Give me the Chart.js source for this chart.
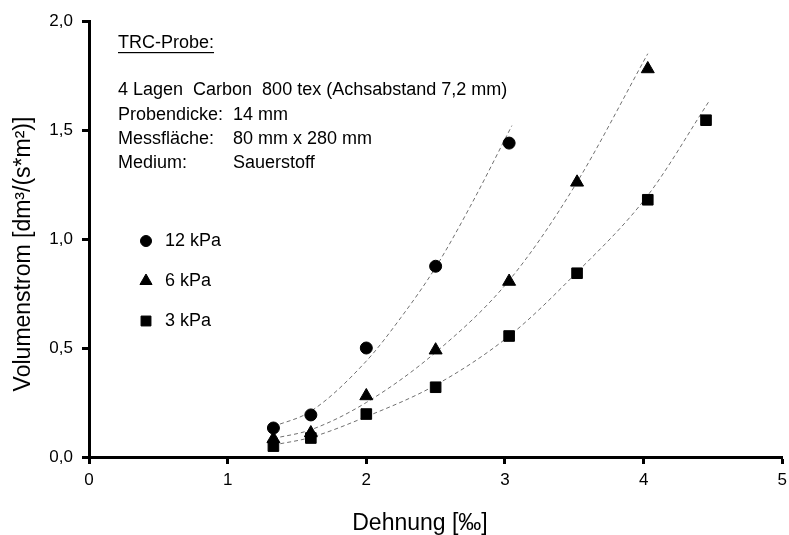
<!DOCTYPE html>
<html>
<head>
  <title>Volumenstrom TRC-Probe</title>
  <script src="https://cdn.jsdelivr.net/npm/chart.js"></script>
  <style>
    body { margin: 0; background: #fff; overflow: hidden; }
    canvas { display: block; }
  </style>
</head>
<body>
  <canvas id="flowChart" width="793" height="535"></canvas>

  <script>
    // measured points (Dehnung in promille, Volumenstrom in dm3/(s*m2))
    const strain12 = [1.33, 1.6, 2.0, 2.5, 3.03];
    const flow12 = [0.133, 0.193, 0.50, 0.875, 1.44];
    const strain6 = [1.33, 1.6, 2.0, 2.5, 3.03, 3.52, 4.03];
    const flow6 = [0.083, 0.11, 0.28, 0.49, 0.805, 1.26, 1.78];
    const strain3 = [1.33, 1.6, 2.0, 2.5, 3.03, 3.52, 4.03, 4.45];
    const flow3 = [0.05, 0.087, 0.197, 0.32, 0.555, 0.843, 1.18, 1.545];

    // dashed trend curves
    const trend12X = [1.33, 1.6, 2.0, 2.25, 2.5, 2.75, 3.05];
    const trend12Y = [0.14, 0.21, 0.44, 0.64, 0.87, 1.15, 1.52];
    const trend6X = [1.33, 1.6, 2.0, 2.5, 3.03, 3.5, 4.03];
    const trend6Y = [0.085, 0.125, 0.25, 0.48, 0.81, 1.24, 1.85];
    const trend3X = [1.33, 1.6, 2.0, 2.5, 3.03, 3.5, 4.03, 4.47];
    const trend3Y = [0.055, 0.09, 0.185, 0.33, 0.555, 0.835, 1.2, 1.63];

    const seriesLabels = ["12 kPa", "6 kPa", "3 kPa"];
    const xTicks = [0, 1, 2, 3, 4, 5];
    const yTicks = [0, 0.5, 1.0, 1.5, 2.0];
    const xTitle = "Dehnung [‰]";
    const yTitle = "Volumenstrom [dm³/(s*m²)]";

    const infoLines = [
      ["4 Lagen  Carbon  800 tex (Achsabstand 7,2 mm)", ""],
      ["Probendicke:", "14 mm"],
      ["Messfläche:", "80 mm x 280 mm"],
      ["Medium:", "Sauerstoff"]
    ];

    const FONT = "'Liberation Sans', Arial, sans-serif";
    const styles = ["circle", "triangle", "rect"];
    const radii = [6, 7.5, 7.5];

    function pts(xs, ys) {
      return xs.map((x, i) => ({ x: x, y: ys[i] }));
    }

    function markerSet(label, xs, ys, i) {
      return {
        label: label,
        data: pts(xs, ys),
        pointStyle: styles[i],
        pointRadius: radii[i],
        backgroundColor: "#000",
        borderColor: "#000",
        borderWidth: 1,
        showLine: false,
        order: 0
      };
    }

    function trendSet(xs, ys) {
      return {
        label: "",
        data: pts(xs, ys),
        showLine: true,
        pointRadius: 0,
        borderColor: "#707070",
        borderWidth: 1,
        borderDash: [4, 3],
        cubicInterpolationMode: "monotone",
        fill: false,
        order: 1
      };
    }

    function drawMarker(ctx, style, r, x, y) {
      if (Chart.helpers && Chart.helpers.drawPoint) {
        ctx.fillStyle = "#000";
        ctx.strokeStyle = "#000";
        ctx.lineWidth = 1;
        Chart.helpers.drawPoint(ctx, { pointStyle: style, radius: r, rotation: 0, borderWidth: 1 }, x, y);
      }
    }

    const notes = {
      id: "notes",
      afterDraw(chart) {
        const ctx = chart.ctx;
        ctx.save();
        ctx.fillStyle = "#000";
        ctx.textBaseline = "middle";

        // axis titles (placed like in the original, a bit off-centre)
        ctx.font = "23px " + FONT;
        ctx.textAlign = "center";
        ctx.fillText(xTitle, 420, 524);
        ctx.save();
        ctx.translate(24, 254);
        ctx.rotate(-Math.PI / 2);
        ctx.fillText(yTitle, 0, 0);
        ctx.restore();

        ctx.font = "18px " + FONT;
        ctx.textAlign = "left";
        ctx.fillText("TRC-Probe:", 118, 43);
        const w = ctx.measureText("TRC-Probe:").width;
        ctx.fillRect(118, 52, w, 1.2);

        const rows = [90, 115, 139, 163];
        infoLines.forEach((ln, i) => {
          ctx.fillText(ln[0], 118, rows[i]);
          if (ln[1]) ctx.fillText(ln[1], 233, rows[i]);
        });

        // legend
        const ly = [241, 281, 321];
        seriesLabels.forEach((t, i) => {
          drawMarker(ctx, styles[i], radii[i] - 0.5, 146, ly[i]);
          ctx.fillStyle = "#000";
          ctx.fillText(t, 165, ly[i]);
        });
        ctx.restore();
      }
    };

    const ctx = document.getElementById("flowChart").getContext("2d");

    new Chart(ctx, {
      type: "scatter",
      data: {
        datasets: [
          markerSet(seriesLabels[0], strain12, flow12, 0),
          markerSet(seriesLabels[1], strain6, flow6, 1),
          markerSet(seriesLabels[2], strain3, flow3, 2),
          trendSet(trend12X, trend12Y),
          trendSet(trend6X, trend6Y),
          trendSet(trend3X, trend3Y)
        ]
      },
      options: {
        responsive: false,
        animation: false,
        layout: { padding: { top: 21, right: 3, left: 0, bottom: 0 } },
        plugins: {
          legend: { display: false },
          tooltip: { enabled: false }
        },
        scales: {
          x: {
            type: "linear",
            min: xTicks[0],
            max: xTicks[xTicks.length - 1],
            afterBuildTicks: s => { s.ticks = xTicks.map(v => ({ value: v })); },
            afterFit: s => { s.height = 78; },
            ticks: {
              color: "#000",
              font: { family: FONT, size: 17 },
              padding: 6,
              callback: v => String(v)
            },
            grid: { drawOnChartArea: false, tickLength: 7, tickWidth: 3, tickColor: "#000" },
            border: { color: "#000", width: 3 }
          },
          y: {
            type: "linear",
            min: yTicks[0],
            max: yTicks[yTicks.length - 1],
            afterBuildTicks: s => { s.ticks = yTicks.map(v => ({ value: v })); },
            afterFit: s => { s.width = 89; },
            ticks: {
              color: "#000",
              font: { family: FONT, size: 17 },
              padding: 9,
              callback: v => v.toFixed(1).replace(".", ",")
            },
            grid: { drawOnChartArea: false, tickLength: 7, tickWidth: 3, tickColor: "#000" },
            border: { color: "#000", width: 3 }
          }
        }
      },
      plugins: [notes]
    });
  </script>
</body>
</html>
